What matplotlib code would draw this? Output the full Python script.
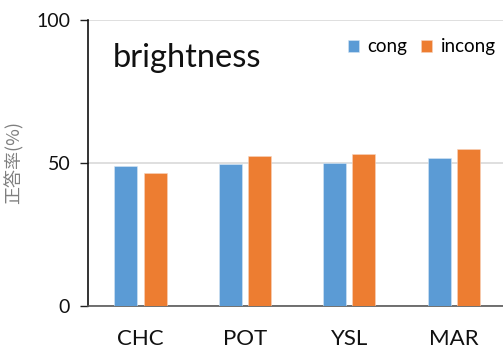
import numpy as np
import matplotlib
matplotlib.use("Agg")
import matplotlib.pyplot as plt

# accuracy (%) per site, congruent vs incongruent trials
sites = ["CHC", "POT", "YSL", "MAR"]
cong = [48.7, 49.4, 49.8, 51.6]
incong = [46.5, 52.3, 53.0, 54.9]
yticks = [0, 50, 100]

blue = "#5B9BD5"
orange = "#ED7D31"

plt.rcParams["font.family"] = ["Lato", "DejaVu Sans"]

fig = plt.figure(figsize=(5.03, 3.54), dpi=100)
ax = fig.add_axes([0.1755, 0.1364, 0.8302, 0.8085])

x = np.arange(len(sites))
w = 0.22
ax.bar(x - 0.14, cong, w, color=blue, edgecolor="#d6e6f5", linewidth=0.4, label="cong", zorder=3)
ax.bar(x + 0.14, incong, w, color=orange, edgecolor="#f8d3bd", linewidth=0.4, label="incong", zorder=3)

ax.set_xlim(-0.5, 3.5)
ax.set_ylim(0, 100)
ax.set_yticks(yticks)
ax.set_yticklabels([str(v) for v in yticks], fontsize=14, color="#111111")
ax.set_xticks(x)
ax.set_xticklabels(sites, fontsize=16, color="#111111")
ax.tick_params(axis="x", length=0, pad=17)
ax.tick_params(axis="y", length=6, width=1, color="#222222", pad=7)

ax.grid(axis="y", color="#d9d9d9", linewidth=1.2, zorder=0)
for s in ["top", "right"]:
    ax.spines[s].set_visible(False)
ax.spines["left"].set_color("#111111")
ax.spines["bottom"].set_color("#595959")
ax.spines["left"].set_linewidth(1.2)
ax.spines["bottom"].set_linewidth(1.2)

ax.set_ylabel("正答率(%)", fontsize=13, color="#7f7f7f", labelpad=9,
              family=["Noto Sans CJK JP", "DejaVu Sans"])

ax.text(0.059, 0.833, "brightness", transform=ax.transAxes, fontsize=23.5,
        color="#111111", va="baseline")

ax.legend(loc="upper right", bbox_to_anchor=(0.994, 0.96), frameon=False,
          ncol=2, fontsize=13.5, handlelength=0.6, handleheight=0.6,
          handletextpad=0.45, columnspacing=0.75, borderaxespad=0)

fig.savefig("out.png", dpi=100)
